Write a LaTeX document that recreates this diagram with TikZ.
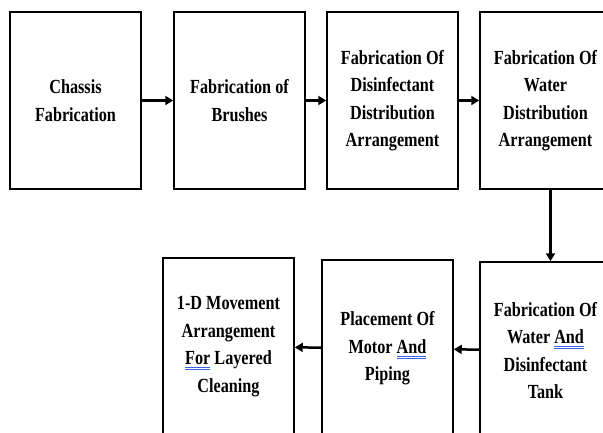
\documentclass[tikz,border=0pt]{standalone}
\usepackage{fontspec}
\setmainfont{Liberation Serif}[FakeStretch=0.81]
\usetikzlibrary{arrows.meta}

\definecolor{checkblue}{RGB}{60,100,225}
% blue double line under a word
\newcommand{\gramline}[1]{\setbox0\hbox{#1}%
  \rlap{\textcolor{checkblue}{\rule[-3.4pt]{\wd0}{0.8pt}}}%
  \rlap{\textcolor{checkblue}{\rule[-5.6pt]{\wd0}{0.8pt}}}\box0\relax}

\begin{document}
\begin{tikzpicture}[x=1pt, y=-1pt,
	stage/.style={draw, line width=1.5pt, minimum width=131pt, minimum height=177pt,
		align=center, font=\fontsize{20}{27.5}\selectfont\bfseries, inner sep=0pt},
	flow/.style={line width=2.5pt, -{Triangle[length=8pt, width=9pt]}}]
	\useasboundingbox (0,0) rectangle (603,433);
	\clip (0,0) rectangle (603,433);

	\node [stage] (chassis) at (75.5, 100.5) {Chassis\\Fabrication};
	\node [stage] (brushes) at (239.5, 100.5) {Fabrication of\\Brushes};
	\node [stage] (disinf) at (392.5, 100.5) {Fabrication Of\\Disinfectant\\Distribution\\Arrangement};
	\node [stage] (waterdist) at (545.5, 100.5) {Fabrication Of\\Water\\Distribution\\Arrangement};

	\node [stage] (tank) at (545.5, 350.5) {Fabrication Of\\Water \gramline{And}\\Disinfectant\\Tank};
	\node [stage] (motor) at (387.5, 348.5) {Placement Of\\Motor \gramline{And}\\Piping};
	\node [stage] (movement) at (228.5, 346.5) {1-D Movement\\Arrangement\\\gramline{For} Layered\\Cleaning};

	\draw [flow] (chassis) -- (brushes);
	\draw [flow] (brushes) -- (disinf);
	\draw [flow] (disinf) -- (waterdist);
	\draw [flow] ([xshift=5pt]waterdist.south) -- ([xshift=5pt]tank.north);
	\draw [flow] (tank) -- (motor);
	\draw [flow] (motor) -- (movement);
\end{tikzpicture}
\end{document}
